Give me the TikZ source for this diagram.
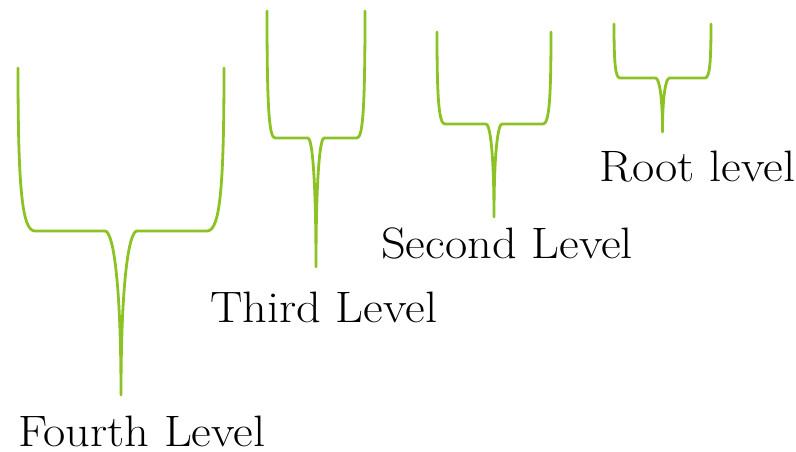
\documentclass[tikz,border=0pt]{standalone}
\usepackage{fontspec}
\setmainfont{Latin Modern Roman}[FakeStretch=1.1]
\usepackage{tikz}
\usetikzlibrary{calc,positioning}
\definecolor{levelgreen}{RGB}{141,194,36}
\tikzset{
  lvlline/.style={draw=levelgreen,line width=2.8pt,line join=round,line cap=round},
  lvllabel/.style={anchor=base west,inner sep=0pt,font=\fontsize{44}{50}\selectfont}
}
% #1 left, #2 right, #3 top, #4 bend, #5 tip, #6 corner, #7 inner
\newcommand{\levelfork}[7]{%
  \pgfmathsetmacro{\cx}{(#1+#2)/2}
  \pgfmathsetmacro{\ca}{#4-0.25*(#4-#3)}
  \pgfmathsetmacro{\cb}{#4+0.3*(#5-#4)}
  \draw[lvlline] (#1,#3) .. controls (#1,\ca) and (#1+0.25*#6,#4) .. (#1+#6,#4)
    -- (\cx-#7,#4) .. controls (\cx-0.5*#7,#4) and (\cx,\cb) .. (\cx,#5)
    .. controls (\cx,\cb) and (\cx+0.5*#7,#4) .. (\cx+#7,#4)
    -- (#2-#6,#4) .. controls (#2-0.25*#6,#4) and (#2,\ca) .. (#2,#3);
}
\begin{document}
\begin{tikzpicture}[x=1pt,y=-1pt]
	\useasboundingbox (0,0) rectangle (796,451);
	\levelfork{18}{224}{68}{231}{395}{17}{16}
	\levelfork{267}{365}{11}{138}{267}{8}{8}
	\levelfork{437}{551}{32}{124}{217}{8}{8}
	\levelfork{614}{711}{24}{78}{132}{6}{7}
	\node[lvllabel] (fourth) at (18,446) {Fourth Level};
	\node[lvllabel] (third) at (210,322) {Third Level};
	\node[lvllabel] (second) at (381,258) {Second Level};
	\node[lvllabel] (root) at (599,181) {Root level};
\end{tikzpicture}
\end{document}
